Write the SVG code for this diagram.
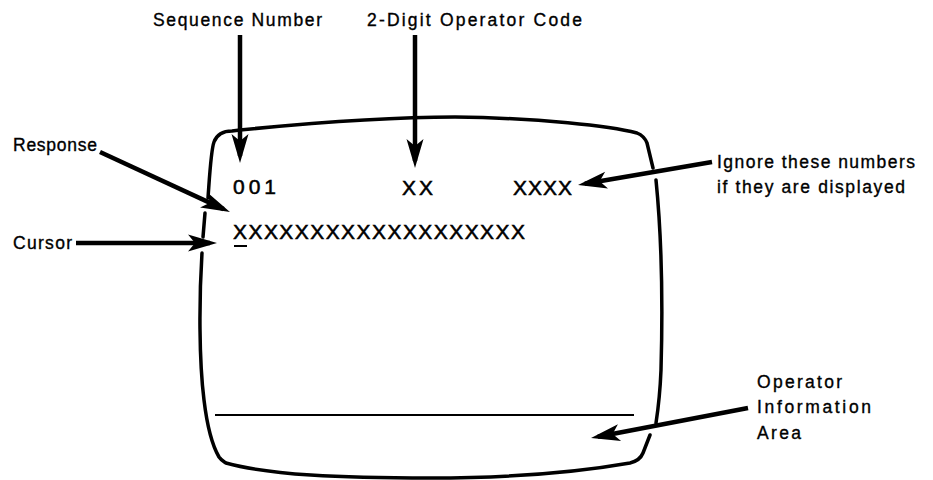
<svg xmlns="http://www.w3.org/2000/svg" width="933" height="480" viewBox="0 0 933 480">
  <style>
    .lbl { font-family: "Liberation Sans", Arial, sans-serif; font-size: 17.5px; fill: #000; stroke: #000; stroke-width: 0.35; }
    .scr { font-family: "Liberation Sans", Arial, sans-serif; font-size: 21px; fill: #000; stroke: #000; stroke-width: 0.5; }
    .outline { fill: none; stroke: #000; stroke-width: 3.5; stroke-linecap: round; stroke-linejoin: round; }
    .arrow { fill: none; stroke: #000; stroke-width: 4.5; marker-end: url(#ah); }
  </style>
  <defs>
    <marker id="ah" markerUnits="userSpaceOnUse" markerWidth="40" markerHeight="24" viewBox="-30 -12 40 24" refX="0" refY="0" orient="auto">
      <path d="M7,0 L-22,-8.5 L-15,0 L-22,8.5 Z" fill="#000"/>
    </marker>
  </defs>
  <rect width="933" height="480" fill="#fff"/>

  <g id="screen">
    <path class="outline" d="M208,198 C210,170 211,150 214,142 C217,134 224,131 232,131 L240,130 C320,122 400,117 455,117 C540,118 610,126 637,133 C642,135 645,138 647,143 L653,168"/>
    <path class="outline" d="M205,213 L203,237"/>
    <path class="outline" d="M202,253 C199,300 199,360 204,400 C207,425 212,445 219,457 C221,460 223,461 226,463 C270,475 340,478 430,478 C520,478 590,470 630,463 C638,461 641,458 643,453 L650,435"/>
    <path class="outline" d="M656,180 C661,230 663,300 661,370 C660,395 658,410 656,423"/>
    <line x1="215" y1="415" x2="634" y2="415" stroke="#000" stroke-width="2"/>
  </g>

  <g id="screen-text">
    <text class="scr" x="233" y="194" textLength="43" lengthAdjust="spacing">001</text>
    <text class="scr" x="402" y="195" textLength="31" lengthAdjust="spacing">XX</text>
    <text class="scr" x="513" y="195" textLength="59" lengthAdjust="spacing">XXXX</text>
    <text class="scr" x="233" y="239" textLength="292" lengthAdjust="spacing">XXXXXXXXXXXXXXXXXXX</text>
    <line id="cursor-mark" x1="234" y1="246" x2="247" y2="246" stroke="#000" stroke-width="2"/>
  </g>

  <g id="label-sequence">
    <text class="lbl" x="153" y="26" textLength="169" lengthAdjust="spacing">Sequence Number</text>
  </g>
  <g id="label-operator-code">
    <text class="lbl" x="367" y="26" textLength="215" lengthAdjust="spacing">2-Digit Operator Code</text>
  </g>
  <g id="label-response">
    <text class="lbl" x="13" y="151" textLength="84" lengthAdjust="spacing">Response</text>
  </g>
  <g id="label-cursor">
    <text class="lbl" x="13" y="249" textLength="59" lengthAdjust="spacing">Cursor</text>
  </g>
  <g id="label-ignore">
    <text class="lbl" x="717" y="168" textLength="198" lengthAdjust="spacing">Ignore these numbers</text>
    <text class="lbl" x="717" y="193" textLength="188" lengthAdjust="spacing">if they are displayed</text>
  </g>
  <g id="label-info-area">
    <text class="lbl" x="757" y="388" textLength="85" lengthAdjust="spacing">Operator</text>
    <text class="lbl" x="757" y="413" textLength="114" lengthAdjust="spacing">Information</text>
    <text class="lbl" x="757" y="439" textLength="44" lengthAdjust="spacing">Area</text>
  </g>

  <g id="connectors">
    <path class="arrow" d="M240,35 L240,156"/>
    <path class="arrow" d="M415,35 L415,161"/>
    <path class="arrow" d="M100,152 L223.6,209.1"/>
    <path class="arrow" d="M76,243 L210,243"/>
    <path class="arrow" d="M712,162 L584.9,183.8"/>
    <path class="arrow" d="M748,408 L597.9,436.7"/>
  </g>
</svg>
